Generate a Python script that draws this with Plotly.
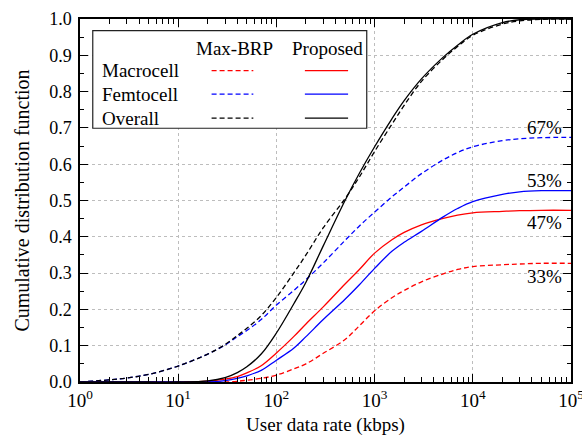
import plotly.graph_objects as go

# User data rate samples (kbps)
rate_kbps = [1, 2, 3, 5, 10, 20, 30, 40, 50, 70, 100, 150, 200, 300, 500, 700,
             1000, 1500, 2000, 3000, 5000, 7000, 10000, 20000, 30000, 50000, 100000]

# CDF values, Max-BRP scheme
macro_maxbrp = [0, 0, 0, 0, 0, 0, 0, 0.002, 0.005, 0.010, 0.019, 0.036, 0.050, 0.079,
                0.117, 0.155, 0.196, 0.232, 0.252, 0.276, 0.298, 0.310, 0.318, 0.323,
                0.325, 0.327, 0.327]
femto_maxbrp = [0, 0.006, 0.011, 0.021, 0.044, 0.077, 0.102, 0.125, 0.142, 0.172, 0.212,
                0.252, 0.282, 0.328, 0.390, 0.430, 0.468, 0.510, 0.537, 0.574, 0.612,
                0.632, 0.648, 0.665, 0.670, 0.673, 0.674]
overall_maxbrp = [0, 0.006, 0.011, 0.021, 0.044, 0.077, 0.103, 0.128, 0.148, 0.183, 0.233,
                  0.300, 0.350, 0.425, 0.505, 0.565, 0.635, 0.710, 0.762, 0.828, 0.890,
                  0.924, 0.955, 0.986, 0.995, 0.999, 1.0]

# CDF values, proposed scheme
macro_prop = [0, 0, 0, 0, 0, 0.002, 0.008, 0.015, 0.025, 0.045, 0.080, 0.125, 0.160, 0.207,
              0.270, 0.310, 0.355, 0.392, 0.412, 0.433, 0.451, 0.460, 0.466, 0.470, 0.472,
              0.473, 0.473]
femto_prop = [0, 0, 0, 0, 0, 0, 0.004, 0.010, 0.017, 0.032, 0.060, 0.093, 0.125, 0.172,
              0.228, 0.268, 0.313, 0.360, 0.385, 0.415, 0.455, 0.478, 0.497, 0.517, 0.524,
              0.527, 0.527]
overall_prop = [0, 0, 0, 0, 0, 0.003, 0.012, 0.026, 0.042, 0.077, 0.135, 0.215, 0.275, 0.375,
                0.500, 0.575, 0.648, 0.725, 0.775, 0.835, 0.895, 0.928, 0.958, 0.990, 0.998,
                1.0, 1.0]

x_tick_vals = [1, 10, 100, 1000, 10000, 100000]
x_tick_text = ["10<sup>0</sup>", "10<sup>1</sup>", "10<sup>2</sup>", "10<sup>3</sup>",
               "10<sup>4</sup>", "10<sup>5</sup>"]
y_tick_vals = [0.0, 0.1, 0.2, 0.3, 0.4, 0.5, 0.6, 0.7, 0.8, 0.9, 1.0]

row_names = ["Macrocell", "Femtocell", "Overall"]
col_names = ["Max-BRP", "Proposed"]

FONT = "Liberation Serif, Times New Roman, serif"
RED, BLUE, BLACK = "#ff0000", "#0000ff", "#000000"
DASH = "5px,3px"
LW = 1.3

series = [
    (macro_maxbrp, RED, DASH),
    (femto_maxbrp, BLUE, DASH),
    (overall_maxbrp, BLACK, DASH),
    (macro_prop, RED, "solid"),
    (femto_prop, BLUE, "solid"),
    (overall_prop, BLACK, "solid"),
]

fig = go.Figure()
for ys, color, dash in series:
    fig.add_trace(go.Scatter(
        x=rate_kbps, y=ys, mode="lines",
        line=dict(color=color, width=LW, dash=dash, shape="spline", smoothing=1.0),
        showlegend=False, hoverinfo="skip",
    ))

# Hand-built legend table in the upper-left corner
box = dict(x0=0.026, x1=0.584, y0=0.699, y1=0.968)
fig.add_shape(type="rect", xref="paper", yref="paper", **box,
              line=dict(color="#222222", width=1.2), fillcolor="white", layer="above")

head_x = [0.314, 0.505]
for name, hx in zip(col_names, head_x):
    fig.add_annotation(x=hx, y=0.920, xref="paper", yref="paper", text=name,
                       showarrow=False, xanchor="center", yanchor="middle",
                       font=dict(family=FONT, size=19, color="black"))

row_y = [0.858, 0.793, 0.727]
row_colors = [RED, BLUE, BLACK]
for name, ry, c in zip(row_names, row_y, row_colors):
    fig.add_annotation(x=0.040, y=ry, xref="paper", yref="paper", text=name,
                       showarrow=False, xanchor="left", yanchor="middle",
                       font=dict(family=FONT, size=19, color="black"))
    fig.add_shape(type="line", xref="paper", yref="paper", x0=0.268, x1=0.353,
                  y0=ry, y1=ry, line=dict(color=c, width=LW, dash=DASH), layer="above")
    fig.add_shape(type="line", xref="paper", yref="paper", x0=0.458, x1=0.546,
                  y0=ry, y1=ry, line=dict(color=c, width=LW), layer="above")

# Final-share labels at the right end of the curves
for ys, shift in [(femto_maxbrp, 10), (femto_prop, 10), (macro_prop, -12), (macro_maxbrp, -13)]:
    v = ys[-1]
    fig.add_annotation(x=0.947, y=v, xref="paper", yref="y",
                       text=f"{round(v * 100)}%", showarrow=False,
                       xanchor="center", yanchor="middle", yshift=shift,
                       font=dict(family=FONT, size=19, color="black"))

minor_x = [k * 10 ** d for d in range(5) for k in range(2, 10)]

fig.update_xaxes(
    type="log", range=[0, 5.00001], automargin=False,
    tickmode="array", tickvals=x_tick_vals, ticktext=x_tick_text,
    ticklabeloverflow="allow",
    ticks="inside", ticklen=8, tickwidth=1.2, tickcolor="black",
    minor=dict(tickmode="array", tickvals=minor_x, ticks="inside", ticklen=5,
               tickwidth=1, tickcolor="black", showgrid=False),
    showline=True, linecolor="black", linewidth=1.5, mirror="allticks",
    showgrid=True, gridcolor="#bdbdbd", gridwidth=1, griddash="dot",
    zeroline=False,
    tickfont=dict(family=FONT, size=19, color="black"),
    title=dict(text="User data rate (kbps)", standoff=8,
               font=dict(family=FONT, size=19, color="black")),
)
fig.update_yaxes(
    range=[0, 1.0], automargin=False,
    tickmode="array", tickvals=y_tick_vals, tickformat=".1f",
    ticks="inside", ticklen=8, tickwidth=1.2, tickcolor="black",
    ticklabelstandoff=3,
    minor=dict(dtick=0.05, ticks="inside", ticklen=4, tickwidth=1,
               tickcolor="black", showgrid=False),
    showline=True, linecolor="black", linewidth=1.5, mirror="allticks",
    showgrid=True, gridcolor="#bdbdbd", gridwidth=1, griddash="dot",
    zeroline=False,
    tickfont=dict(family=FONT, size=18, color="black"),
    title=dict(text="Cumulative distribution function", standoff=14,
               font=dict(family=FONT, size=20, color="black")),
)

fig.update_layout(
    width=582, height=447,
    margin=dict(l=80, r=11, t=19, b=65),
    paper_bgcolor="white", plot_bgcolor="white",
    font=dict(family=FONT, color="black"),
    showlegend=False,
)

fig.write_html("out.html")
